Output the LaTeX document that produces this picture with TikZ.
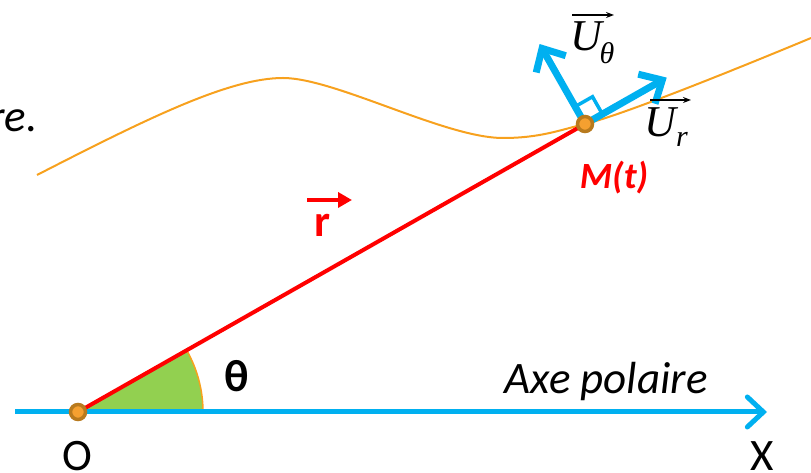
\documentclass[tikz,border=0pt]{standalone}
\usepackage{fontspec}
\setmainfont{Carlito}
\newfontfamily\tnr{Liberation Serif}
\usetikzlibrary{arrows.meta,calc}
\definecolor{cblue}{HTML}{00B0F0}
\definecolor{cred}{HTML}{FF0000}
\definecolor{cgreen}{HTML}{92D050}
\definecolor{corange}{HTML}{F7A11E}
\definecolor{cbrown}{HTML}{B87A1E}
\definecolor{cdot}{HTML}{F5A030}
\begin{document}
\begin{tikzpicture}[x=1pt,y=1pt,
  lbl/.style={inner sep=0pt, font=\fontsize{45}{54}\selectfont},
  ulbl/.style={inner sep=0pt, font=\tnr\itshape\fontsize{44}{50}\selectfont},
  sublbl/.style={inner sep=0pt, font=\tnr\itshape\fontsize{30}{34}\selectfont},
  vecarrow/.style={black, line width=1.3pt, -{Stealth[length=8pt,width=6pt]}},
  bluevec/.style={cblue, line width=7pt, -{Straight Barb[length=18pt,width=34pt]}},
  dot/.style={circle, fill=cdot, draw=cbrown, line width=3.5pt, minimum size=15pt, inner sep=0pt}]
\useasboundingbox (0,0) rectangle (811,473);
\coordinate (O) at (78,61);
\coordinate (M) at (585,349);
\coordinate (a0) at (15,61);
\coordinate (a1) at (767,61);
\coordinate (ur) at ($(M)+(29.6:94)$);
\coordinate (ut) at ($(M)+(119.6:92)$);
% angle sector
\fill[cgreen] (O) -- ++(125,0) arc[start angle=0,end angle=29.6,radius=125] -- cycle;
\draw[corange, line width=1.5pt] ($(O)+(125,0)$) arc[start angle=0,end angle=29.6,radius=125];
% trajectory
\draw[corange, line width=2pt] (37,298) .. controls (150,356) and (230,395) .. (283,395)
  .. controls (335,395) and (445,335) .. (503,335)
  .. controls (540,335) and (560,343) .. (585,349)
  .. controls (625,358.6) and (751,410) .. (811,435);
% polar axis
\draw[cblue, line width=5pt, -{Straight Barb[length=16pt,width=30pt,line cap=round]}] (a0) -- (a1);
% position vector
\draw[cred, line width=4pt] (O) -- (M);
% unit vectors
\draw[bluevec] (M) -- (ur);
\draw[bluevec] (M) -- (ut);
\draw[cblue, line width=3.5pt] ($(M)+(29.6:20)$) -- ++(119.6:20) -- ($(M)+(119.6:20)$);
% dots
\node[dot] (dO) at (O) {};
\node[dot] (dM) at (M) {};
% labels
\node[lbl, anchor=base east] (re) at (38,341) {\itshape re.};
\node[lbl] (th) at (237,97) {\bfseries θ};
\node[lbl, anchor=base] (axe) at (606,79) {\itshape Axe polaire};
\node[lbl] (Ol) at (77,17) {O};
\node[lbl] (Xl) at (762,17) {X};
\node[lbl, text=cred] (rl) at (322,248) {\bfseries r};
\coordinate (rA) at (307,273);
\coordinate (rB) at (352,273);
\draw[cred, line width=4.5pt, -{Triangle[length=14pt,width=15pt]}] (rA) -- (rB);
\node[inner sep=0pt, text=cred, font=\fontsize{37}{44}\selectfont\bfseries\itshape] (Mt) at (614,295) {M(t)};
% U theta
\node[ulbl] (Ut) at (586,437) {U};
\node[sublbl] (Utsub) at (607,420) {θ};
\coordinate (utA) at (572,458);
\coordinate (utB) at (614,458);
\draw[vecarrow] (utA) -- (utB);
% U r
\node[ulbl] (Ur) at (660,351) {U};
\node[sublbl] (Ursub) at (682,334) {r};
\coordinate (urA) at (650,373);
\coordinate (urB) at (691,373);
\draw[vecarrow] (urA) -- (urB);
\end{tikzpicture}
\end{document}
